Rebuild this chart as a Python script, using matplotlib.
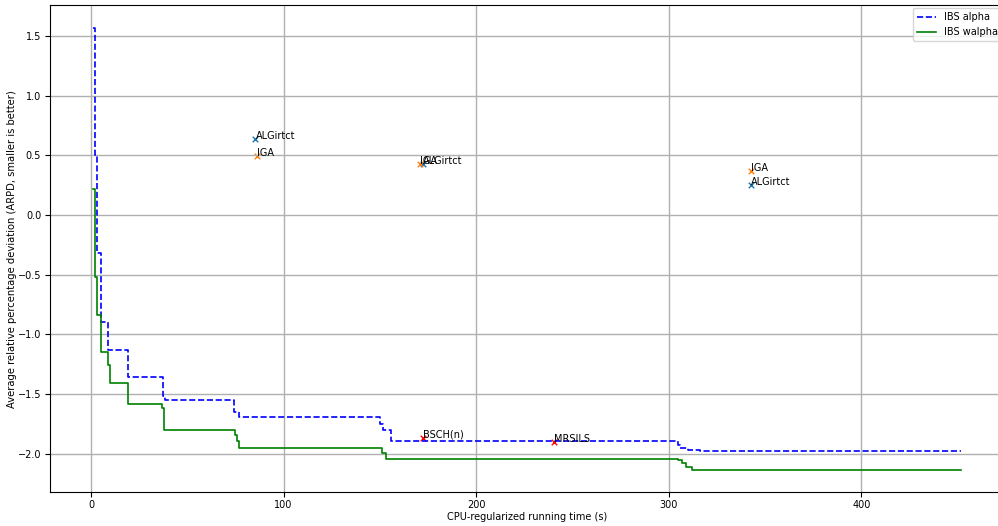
import matplotlib
matplotlib.use("Agg")
import matplotlib.pyplot as plt

# IBS alpha (step curve)
alpha_t = [1.0, 2.3, 3, 5, 9, 19, 37.5, 38.5, 74.5, 77, 150, 151.5, 156, 305, 306, 310, 316, 451.8]
alpha_v = [1.57, 0.50, -0.32, -0.90, -1.13, -1.36, -1.52, -1.55, -1.65, -1.69, -1.75, -1.80, -1.895, -1.93, -1.95, -1.97, -1.98, -1.98]

# IBS walpha (step curve)
walpha_t = [1.0, 2, 3, 5, 9, 10, 19, 37, 38, 75, 76, 77, 151, 153, 305, 307, 309, 312, 451.8]
walpha_v = [0.22, -0.52, -0.84, -1.15, -1.26, -1.41, -1.58, -1.62, -1.80, -1.84, -1.89, -1.95, -1.99, -2.04, -2.05, -2.08, -2.11, -2.135, -2.135]

# other algorithms
algirtct_t = [85.4, 172.5, 342.5]
algirtct_v = [0.64, 0.425, 0.25]
iga_t = [86, 171, 342.5]
iga_v = [0.495, 0.43, 0.365]
other_names = ["BSCH(n)", "MRSILS"]
other_t = [172.5, 240.5]
other_v = [-1.865, -1.905]

fs = 7
fig = plt.figure(figsize=(9.98, 5.26), dpi=100)
ax = fig.add_axes([0.0496, 0.0646, 0.957, 0.925])

ax.plot(alpha_t, alpha_v, "b--", drawstyle="steps-post", lw=1.2, label="IBS alpha")
ax.plot(walpha_t, walpha_v, "g-", drawstyle="steps-post", lw=1.2, label="IBS walpha")

ax.scatter(algirtct_t, algirtct_v, marker="x", s=16, color="C0", lw=1)
for t, v in zip(algirtct_t, algirtct_v):
    ax.text(t, v, "ALGirtct", fontsize=fs)
ax.scatter(iga_t, iga_v, marker="x", s=16, color="C1", lw=1)
for t, v in zip(iga_t, iga_v):
    ax.text(t, v, "IGA", fontsize=fs)
ax.scatter(other_t, other_v, marker="x", s=16, color="red", lw=1)
for name, t, v in zip(other_names, other_t, other_v):
    ax.text(t, v, name, fontsize=fs)

ax.grid(True, lw=1)
ax.set_xlabel("CPU-regularized running time (s)", fontsize=fs, labelpad=1)
ax.set_ylabel("Average relative percentage deviation (ARPD, smaller is better)", fontsize=7.2, labelpad=0.5)
ax.tick_params(labelsize=fs, pad=2.5)
ax.legend(loc="upper right", fontsize=fs, borderaxespad=0.3)

fig.savefig("out.png", dpi=100)
